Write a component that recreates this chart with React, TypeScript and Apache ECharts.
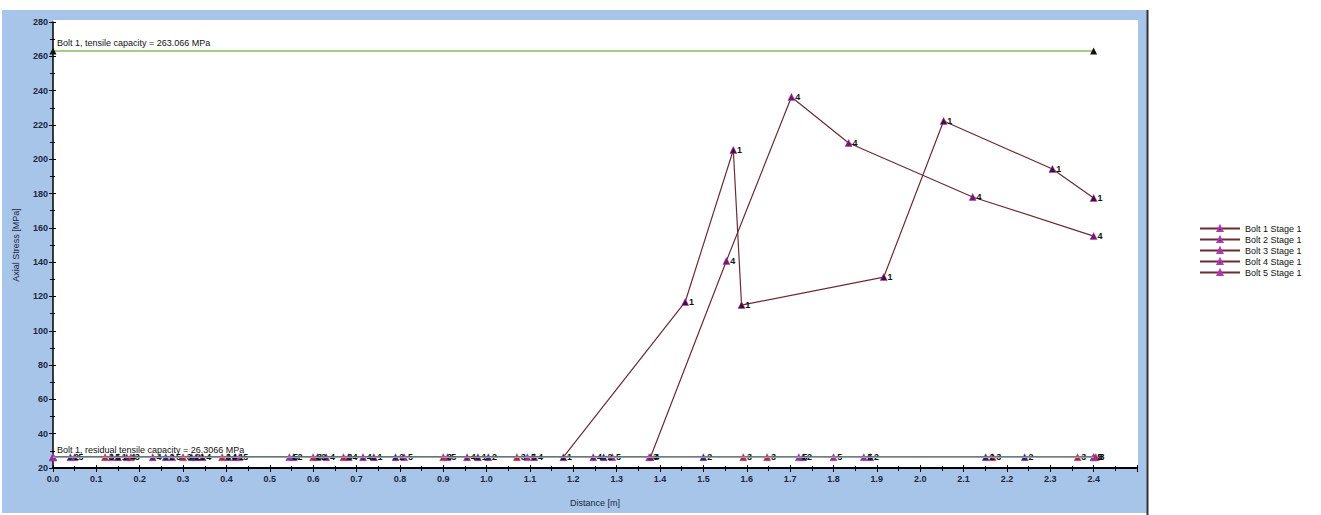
import React, { useEffect, useRef } from "react";
import * as echarts from "echarts";

const FONT = "Liberation Sans, Arial, sans-serif";

const RESIDUAL = 26.3066;
const TENSILE = 263.066;

const tensileDist = [0, 2.4];
const tensileStress = [TENSILE, TENSILE];
const residualDist = [0, 2.4];
const residualStress = [RESIDUAL, RESIDUAL];

const bolt1Dist = [0, 0.15, 0.33, 0.42, 0.74, 0.98, 1.177, 1.458, 1.569, 1.588, 1.916, 2.054, 2.305, 2.4];
const bolt1Stress = [26.31, 26.31, 26.31, 26.31, 26.31, 26.31, 26.31, 116.8, 205.4, 115.0, 131.3, 222.3, 194.3, 177.4];

const bolt2Dist = [0, 0.04, 0.26, 0.32, 0.555, 0.61, 0.79, 1.004, 1.27, 1.5, 1.73, 1.885, 2.151, 2.241, 2.4];
const bolt2Stress = [26.31, 26.31, 26.31, 26.31, 26.31, 26.31, 26.31, 26.31, 26.31, 26.31, 26.31, 26.31, 26.31, 26.31, 26.31];

const bolt3Dist = [0, 0.12, 0.18, 0.3, 0.39, 0.6, 0.67, 0.9, 1.07, 1.375, 1.592, 1.647, 2.167, 2.363, 2.405];
const bolt3Stress = [26.31, 26.31, 26.31, 26.31, 26.31, 26.31, 26.31, 26.31, 26.31, 26.31, 26.31, 26.31, 26.31, 26.31, 26.31];

const bolt4Dist = [0, 0.17, 0.23, 0.345, 0.404, 0.63, 0.682, 0.715, 0.955, 1.11, 1.246, 1.378, 1.553, 1.703, 1.835, 2.121, 2.4];
const bolt4Stress = [26.31, 26.31, 26.31, 26.31, 26.31, 26.31, 26.31, 26.31, 26.31, 26.31, 26.31, 26.31, 140.7, 236.3, 209.5, 178.0, 155.2];

const bolt5Dist = [0, 0.05, 0.135, 0.275, 0.43, 0.545, 0.81, 0.91, 1.094, 1.29, 1.72, 1.8, 1.87, 2.4];
const bolt5Stress = [26.31, 26.31, 26.31, 26.31, 26.31, 26.31, 26.31, 26.31, 26.31, 26.31, 26.31, 26.31, 26.31, 26.31];

const boltNames = ["Bolt 1 Stage 1", "Bolt 2 Stage 1", "Bolt 3 Stage 1", "Bolt 4 Stage 1", "Bolt 5 Stage 1"];
const boltLabels = ["1", "2", "3", "4", "5"];
const boltDists = [bolt1Dist, bolt2Dist, bolt3Dist, bolt4Dist, bolt5Dist];
const boltStresses = [bolt1Stress, bolt2Stress, bolt3Stress, bolt4Stress, bolt5Stress];
const boltMarkerColors = ["#3e1040", "#1d2a6b", "#b8262c", "#6a1c70", "#8e3494"];

export default function App() {
  const ref = useRef<HTMLDivElement>(null);
  useEffect(() => {
    if (!ref.current) return;
    const chart = echarts.init(ref.current, undefined, { renderer: "svg" });

    const boltSeries = boltNames.map((name, i) => ({
      type: "line",
      name,
      z: 3,
      symbol: "triangle",
      symbolSize: 7,
      lineStyle: { color: "#6b2b35", width: 1.2 },
      itemStyle: { color: boltMarkerColors[i], borderColor: "#b03ab0", borderWidth: 0.5 },
      label: {
        show: true,
        position: "right",
        distance: 0,
        formatter: boltLabels[i],
        fontSize: 9,
        fontWeight: "bold",
        fontFamily: FONT,
        color: "#111111",
      },
      data: boltDists[i].map((d, j) =>
        d === 0
          ? { value: [d, boltStresses[i][j]], label: { show: false } }
          : { value: [d, boltStresses[i][j]] }
      ),
    }));

    const xCommon = { type: "value", min: 0, max: 2.5, interval: 0.1, splitLine: { show: false } };
    const yCommon = { type: "value", min: 20, max: 280, interval: 20, splitLine: { show: false } };

    const option = {
      animation: false,
      graphic: [
        { type: "rect", z: -20, shape: { x: 2, y: 10, width: 1145, height: 503 }, style: { fill: "#a7c5e8" } },
        { type: "rect", z: -19, shape: { x: 53, y: 20, width: 1085, height: 448 }, style: { fill: "#ffffff" } },
        { type: "line", z: -18, shape: { x1: 1147.5, y1: 10, x2: 1147.5, y2: 515 }, style: { stroke: "#333", lineWidth: 2 } },
        {
          type: "text", z: 20, x: 57, y: 43,
          style: { text: "Bolt 1, tensile capacity = 263.066 MPa", fontSize: 9, fontFamily: FONT, fill: "#111", textVerticalAlign: "middle" },
        },
        {
          type: "text", z: 20, x: 57, y: 450,
          style: { text: "Bolt 1, residual tensile capacity = 26.3066 MPa", fontSize: 9, fontFamily: FONT, fill: "#111", textVerticalAlign: "middle" },
        },
      ],
      legend: {
        data: boltNames,
        orient: "vertical",
        left: 1199,
        top: 224,
        itemWidth: 40,
        itemHeight: 6,
        itemGap: 2,
        padding: 0,
        textStyle: { fontSize: 9, fontFamily: FONT, color: "#111" },
      },
      grid: { left: 53, right: 184, top: 22, bottom: 47 },
      xAxis: [
        {
          ...xCommon,
          name: "Distance [m]",
          nameLocation: "middle",
          nameGap: 30,
          nameTextStyle: { fontSize: 9, fontFamily: FONT, color: "#1b2740" },
          axisLine: { lineStyle: { color: "#000", width: 2 } },
          axisTick: { show: true, length: 4, lineStyle: { color: "#000" } },
          minorTick: { show: true, splitNumber: 2, length: 3, lineStyle: { color: "#000" } },
          axisLabel: {
            formatter: (v: number) => (v > 2.45 ? "" : v.toFixed(1)),
            fontSize: 9,
            fontWeight: "bold",
            fontFamily: FONT,
            color: "#1b2740",
            margin: 6,
          },
        },
        {
          ...xCommon,
          position: "bottom",
          axisLine: { show: false },
          axisTick: { show: true, inside: true, length: 3, lineStyle: { color: "#000" } },
          minorTick: { show: true, splitNumber: 2, length: 2, lineStyle: { color: "#000" } },
          axisLabel: { show: false },
        },
      ],
      yAxis: [
        {
          ...yCommon,
          name: "Axial Stress [MPa]",
          nameLocation: "middle",
          nameGap: 33,
          nameTextStyle: { fontSize: 9, fontFamily: FONT, color: "#1b2740" },
          axisLine: { show: true, lineStyle: { color: "#000", width: 1.5 } },
          axisTick: { show: true, length: 4, lineStyle: { color: "#000" } },
          minorTick: { show: true, splitNumber: 2, length: 3, lineStyle: { color: "#000" } },
          axisLabel: {
            fontSize: 9,
            fontWeight: "bold",
            fontFamily: FONT,
            color: "#1b2740",
            margin: 5,
          },
        },
        {
          ...yCommon,
          position: "left",
          axisLine: { show: false },
          axisTick: { show: true, inside: true, length: 3, lineStyle: { color: "#000" } },
          minorTick: { show: true, splitNumber: 2, length: 2, lineStyle: { color: "#000" } },
          axisLabel: { show: false },
        },
      ],
      series: [
        {
          type: "line",
          name: "Tensile capacity",
          z: 2,
          symbol: "triangle",
          symbolSize: 7,
          lineStyle: { color: "#86c05a", width: 1.5 },
          itemStyle: { color: "#111" },
          data: tensileDist.map((d, j) => [d, tensileStress[j]]),
        },
        ...boltSeries,
        {
          type: "line",
          name: "Residual capacity",
          z: 4,
          symbol: "none",
          lineStyle: { color: "#86aaa6", width: 1.6 },
          data: residualDist.map((d, j) => [d, residualStress[j]]),
        },
      ],
    };
    chart.setOption(option as any);
    return () => chart.dispose();
  }, []);
  return (
    <div
      ref={ref}
      style={{ position: "absolute", left: 0, top: 0, width: 1321, height: 515 }}
    />
  );
}
